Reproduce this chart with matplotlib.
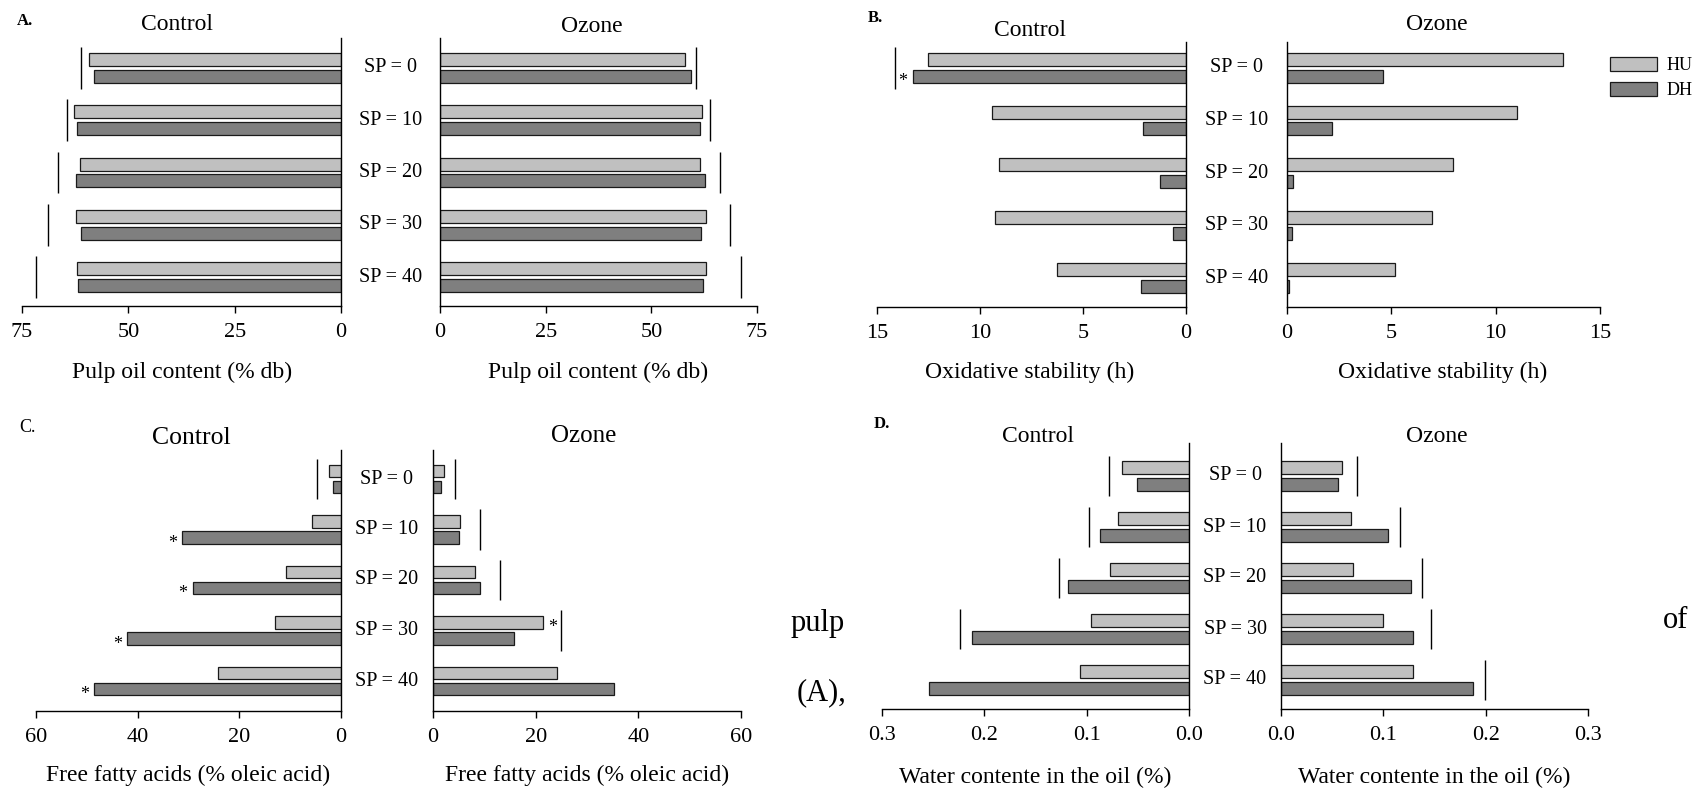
import numpy as np
import matplotlib
matplotlib.use('Agg')
import matplotlib.pyplot as plt
from matplotlib.patches import Patch
import matplotlib.transforms as mtransforms

plt.rcParams['font.family'] = ['Liberation Serif', 'DejaVu Serif']

# data
sp_labels = ['SP = 0', 'SP = 10', 'SP = 20', 'SP = 30', 'SP = 40']

# A. pulp oil content (% db)
oil_ctrl_hu = [59.3, 62.7, 61.4, 62.4, 62.1]
oil_ctrl_dh = [58.0, 62.0, 62.4, 61.2, 61.8]
oil_oz_hu = [57.9, 61.9, 61.4, 63.0, 63.0]
oil_oz_dh = [59.3, 61.4, 62.7, 61.7, 62.3]
oil_ctrl_line = [61.2, 64.4, 66.6, 68.9, 71.6]
oil_oz_line = [60.5, 63.9, 66.3, 68.6, 71.1]

# B. oxidative stability (h)
os_ctrl_hu = [12.54, 9.44, 9.06, 9.27, 6.26]
os_ctrl_dh = [13.26, 2.11, 1.25, 0.61, 2.17]
os_oz_hu = [13.22, 11.01, 7.97, 6.97, 5.16]
os_oz_dh = [4.59, 2.18, 0.29, 0.26, 0.09]
os_ctrl_line = [14.13, None, None, None, None]
os_oz_line = [None, None, None, None, None]
os_ctrl_star_dh = [True, False, False, False, False]

# C. free fatty acids (% oleic acid)
ffa_ctrl_hu = [2.4, 5.7, 10.8, 13.0, 24.2]
ffa_ctrl_dh = [1.5, 31.3, 29.2, 42.1, 48.5]
ffa_oz_hu = [2.1, 5.2, 8.2, 21.5, 24.1]
ffa_oz_dh = [1.6, 5.0, 9.2, 15.8, 35.2]
ffa_ctrl_line = [4.8, None, None, None, None]
ffa_oz_line = [4.25, 9.2, 13.1, 25.0, None]
ffa_ctrl_star_dh = [False, True, True, True, True]
ffa_oz_star_hu = [False, False, False, True, False]

# D. water content in the oil (%)
wc_ctrl_hu = [0.065, 0.069, 0.077, 0.096, 0.107]
wc_ctrl_dh = [0.051, 0.087, 0.118, 0.212, 0.254]
wc_oz_hu = [0.060, 0.068, 0.070, 0.100, 0.129]
wc_oz_dh = [0.056, 0.105, 0.127, 0.129, 0.188]
wc_ctrl_line = [0.078, 0.098, 0.127, 0.224, None]
wc_oz_line = [0.074, 0.116, 0.138, 0.147, 0.199]

W, H = 1697, 790
LIGHT = '#c0c0c0'
DARK = '#7f7f7f'
EDGE = '#1a1a1a'

fig = plt.figure(figsize=(W / 100, H / 100), dpi=100)


def px_axes(x0, x1, y0, y1):
    return fig.add_axes([x0 / W, 1 - y1 / H, (x1 - x0) / W, (y1 - y0) / H])


def ftext(x, y, s, **kw):
    fig.text(x / W, 1 - y / H, s, **kw)


def half(x0, x1, top, bottom, yc0, yc4, xmax, ticks, fmt, hu, dh, lines,
         side, star_hu=None, star_dh=None):
    ax = px_axes(x0, x1, top, bottom)
    sp = (yc4 - yc0) / 4.0
    ax.set_ylim(4 + (bottom - yc4) / sp, -(yc0 - top) / sp)
    if side == 'left':
        ax.set_xlim(xmax, 0)
    else:
        ax.set_xlim(0, xmax)
    y = np.arange(len(hu))
    ax.barh(y - 0.16, hu, height=0.25, color=LIGHT, edgecolor=EDGE, linewidth=0.9)
    ax.barh(y + 0.16, dh, height=0.25, color=DARK, edgecolor=EDGE, linewidth=0.9)
    for i, v in enumerate(lines):
        if v is not None:
            ax.vlines(v, i - 0.4, i + 0.4, color='black', linewidth=1.0)
    dx = -7 if side == 'left' else 7
    for flags, vals, off in ((star_hu, hu, -0.16), (star_dh, dh, 0.16)):
        if flags is None:
            continue
        for i, f in enumerate(flags):
            if f:
                ax.annotate('*', (vals[i], i + off), xytext=(dx, -4),
                            textcoords='offset points', ha='center',
                            va='center', fontsize=13)
    for s in ('top', 'left', 'right'):
        ax.spines[s].set_visible(False)
    ax.spines['right' if side == 'left' else 'left'].set_visible(True)
    for s in ax.spines.values():
        s.set_linewidth(1.0)
    ax.set_yticks([])
    ax.set_xticks(ticks)
    ax.set_xticklabels([fmt % t for t in ticks])
    ax.tick_params(axis='x', direction='out', length=5, width=1.0,
                   labelsize=16, pad=7)
    ax.patch.set_visible(False)
    return ax


def panel(cx, ox, top, bottom, yc0, yc4, xmax, ticks, fmt, data, sp_size=14.5):
    ctrl = half(cx[0], cx[1], top, bottom, yc0, yc4, xmax, ticks[::-1], fmt,
                data['ch'], data['cd'], data['cl'], 'left',
                data.get('csh'), data.get('csd'))
    half(ox[0], ox[1], top, bottom, yc0, yc4, xmax, ticks, fmt,
         data['oh'], data['od'], data['ol'], 'right',
         data.get('osh'), data.get('osd'))
    mid = ((cx[1] + ox[0]) / 2 - cx[0]) / (cx[1] - cx[0])
    tr = mtransforms.blended_transform_factory(ctrl.transAxes, ctrl.transData)
    for i, lab in enumerate(sp_labels):
        ctrl.text(mid, i, lab, transform=tr, ha='center', va='center',
                  fontsize=sp_size)


panel((22, 341), (440, 757), 38, 306, 68, 277, 75, [0, 25, 50, 75], '%d',
      dict(ch=oil_ctrl_hu, cd=oil_ctrl_dh, cl=oil_ctrl_line,
           oh=oil_oz_hu, od=oil_oz_dh, ol=oil_oz_line))
panel((877, 1186), (1287, 1600), 42, 307, 68, 278, 15, [0, 5, 10, 15], '%d',
      dict(ch=os_ctrl_hu, cd=os_ctrl_dh, cl=os_ctrl_line, csd=os_ctrl_star_dh,
           oh=os_oz_hu, od=os_oz_dh, ol=os_oz_line))
panel((36, 341), (433, 741), 450, 711, 479, 681, 60, [0, 20, 40, 60], '%d',
      dict(ch=ffa_ctrl_hu, cd=ffa_ctrl_dh, cl=ffa_ctrl_line, csd=ffa_ctrl_star_dh,
           oh=ffa_oz_hu, od=ffa_oz_dh, ol=ffa_oz_line, osh=ffa_oz_star_hu))
panel((882, 1189), (1281, 1588), 443, 709, 476, 680, 0.3, [0.0, 0.1, 0.2, 0.3], '%.1f',
      dict(ch=wc_ctrl_hu, cd=wc_ctrl_dh, cl=wc_ctrl_line,
           oh=wc_oz_hu, od=wc_oz_dh, ol=wc_oz_line))

# titles
tsz = 17
ftext(177, 25, 'Control', ha='center', va='center', fontsize=tsz)
ftext(592, 26, 'Ozone', ha='center', va='center', fontsize=tsz)
ftext(1030, 30, 'Control', ha='center', va='center', fontsize=tsz)
ftext(1437, 25, 'Ozone', ha='center', va='center', fontsize=tsz)
ftext(191, 438, 'Control', ha='center', va='center', fontsize=tsz + 1.5)
ftext(584, 436, 'Ozone', ha='center', va='center', fontsize=tsz + 1)
ftext(1038, 437, 'Control', ha='center', va='center', fontsize=tsz)
ftext(1437, 437, 'Ozone', ha='center', va='center', fontsize=tsz)

# x labels
ftext(182, 372, 'Pulp oil content (% db)', ha='center', va='center', fontsize=tsz)
ftext(598, 372, 'Pulp oil content (% db)', ha='center', va='center', fontsize=tsz)
ftext(1030, 372, 'Oxidative stability (h)', ha='center', va='center', fontsize=tsz)
ftext(1443, 372, 'Oxidative stability (h)', ha='center', va='center', fontsize=tsz)
ftext(188, 775, 'Free fatty acids (% oleic acid)', ha='center', va='center', fontsize=tsz)
ftext(587, 775, 'Free fatty acids (% oleic acid)', ha='center', va='center', fontsize=tsz)
ftext(1035, 777, 'Water contente in the oil (%)', ha='center', va='center', fontsize=tsz)
ftext(1434, 777, 'Water contente in the oil (%)', ha='center', va='center', fontsize=tsz)

# panel letters
ftext(17, 21, 'A.', ha='left', va='center', fontsize=12, fontweight='bold')
ftext(868, 18, 'B.', ha='left', va='center', fontsize=12, fontweight='bold')
ftext(19, 428, 'C.', ha='left', va='center', fontsize=13)
ftext(874, 424, 'D.', ha='left', va='center', fontsize=12, fontweight='bold')

# stray caption words
ftext(818, 623, 'pulp', ha='center', va='center', fontsize=22)
ftext(821, 693, '(A),', ha='center', va='center', fontsize=22)
ftext(1676, 620, 'of', ha='center', va='center', fontsize=22)

# legend
handles = [Patch(facecolor=LIGHT, edgecolor=EDGE, linewidth=0.9, label='HU'),
           Patch(facecolor=DARK, edgecolor=EDGE, linewidth=0.9, label='DH')]
fig.legend(handles=handles, loc='upper left', bbox_to_anchor=(1603 / W, 1 - 50 / H),
           frameon=False, fontsize=13, handlelength=2.6, handleheight=0.75,
           labelspacing=0.45, handletextpad=0.5, borderaxespad=0)

fig.savefig('out.png', dpi=100)
